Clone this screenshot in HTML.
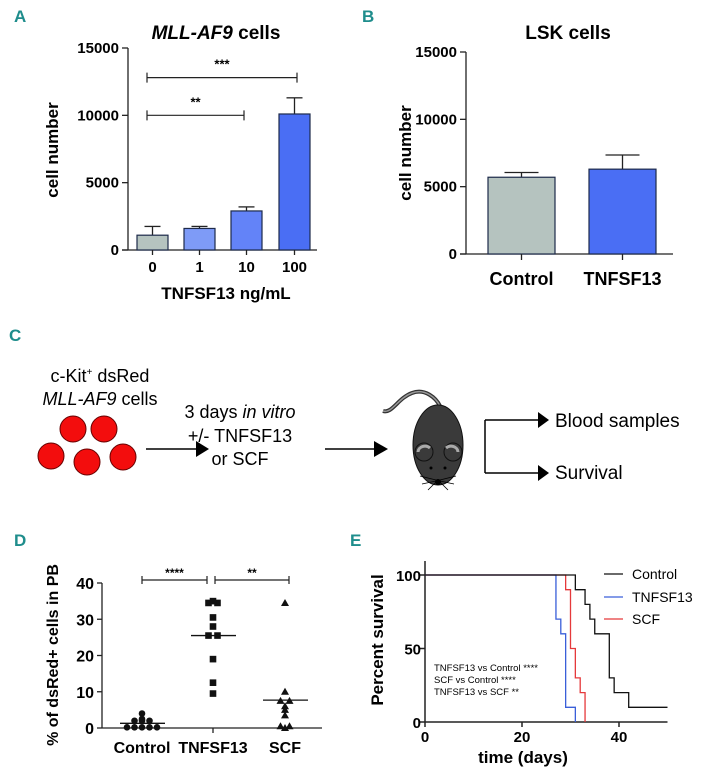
<!DOCTYPE html>
<html><head><meta charset="utf-8"><style>
body{margin:0;background:#fff}
svg{display:block;font-family:"Liberation Sans",sans-serif}
.lbl{fill:#1f8d8c;font-weight:bold;font-size:17px;font-family:"Liberation Sans Narrow","Liberation Sans",sans-serif}
.b{font-weight:bold}
</style></head><body>
<svg id="fig" width="707" height="776" viewBox="0 0 707 776">
<text class="lbl" x="14" y="22">A</text>
<text class="lbl" x="362" y="22">B</text>
<text class="lbl" x="9" y="341">C</text>
<text class="lbl" x="14" y="546">D</text>
<text class="lbl" x="350" y="546">E</text>

<g id="pA">
<text x="216" y="39" text-anchor="middle" font-size="19" class="b"><tspan font-style="italic">MLL-AF9</tspan> cells</text>
<text transform="translate(58,150) rotate(-90)" text-anchor="middle" font-size="17" class="b">cell number</text>
<text x="226" y="299" text-anchor="middle" font-size="17" class="b">TNFSF13 ng/mL</text>
</g>
<g id="pB">
<text x="568" y="39" text-anchor="middle" font-size="19" class="b">LSK cells</text>
<text transform="translate(411,153) rotate(-90)" text-anchor="middle" font-size="17" class="b">cell number</text>
</g>

<g id="pC">
<text x="100" y="382" text-anchor="middle" font-size="18">c-Kit<tspan font-size="10" dy="-7">+</tspan><tspan dy="7"> dsRed</tspan></text>
<text x="100" y="405" text-anchor="middle" font-size="18"><tspan font-style="italic">MLL-AF9</tspan> cells</text>
<g fill="#f30d0d" stroke="#600" stroke-width="1">
<circle cx="73" cy="429" r="13"/><circle cx="104" cy="429" r="13"/><circle cx="51" cy="456" r="13"/><circle cx="87" cy="462" r="13"/><circle cx="123" cy="457" r="13"/></g>
<line x1="146" y1="449" x2="198" y2="449" stroke="#000" stroke-width="1.5"/>
<polygon points="196,441 209,449 196,457" fill="#000"/>
<text x="240" y="418" text-anchor="middle" font-size="18">3 days <tspan font-style="italic">in vitro</tspan></text>
<text x="240" y="442" text-anchor="middle" font-size="18">+/- TNFSF13</text>
<text x="240" y="465" text-anchor="middle" font-size="18">or SCF</text>
<line x1="325" y1="449" x2="376" y2="449" stroke="#000" stroke-width="1.5"/>
<polygon points="374,441 388,449 374,457" fill="#000"/>
<g>
<path d="M383,411 C392,414 398,398 412,393 C425,388 436,398 440,406" fill="none" stroke="#333" stroke-width="4"/>
<path d="M383,411 C392,414 398,398 412,393 C425,388 436,398 440,406" fill="none" stroke="#999" stroke-width="1.5"/>
<ellipse cx="438" cy="445" rx="25" ry="40" fill="#3a3a3a" stroke="#111"/>
<circle cx="424" cy="452" r="9" fill="#3a3a3a" stroke="#111"/><circle cx="453" cy="452" r="9" fill="#3a3a3a" stroke="#111"/>
<path d="M418,452 a7,6 0 0 1 12,-4" fill="none" stroke="#aaa" stroke-width="3"/>
<path d="M446,448 a7,6 0 0 1 12,4" fill="none" stroke="#aaa" stroke-width="3"/>
<circle cx="431" cy="468" r="1.5" fill="#000"/><circle cx="445" cy="468" r="1.5" fill="#000"/>
<circle cx="438" cy="482" r="3" fill="#000"/>
<path d="M436,480 l-16,-4 M436,481 l-14,3 M436,482 l-8,8 M440,480 l16,-4 M440,481 l14,3 M440,482 l8,8" stroke="#000" stroke-width="0.8"/>
</g>
<path d="M485,420 V473 M485,420 H540 M485,473 H540" fill="none" stroke="#000" stroke-width="1.5"/>
<polygon points="538,412 549,420 538,428" fill="#000"/><polygon points="538,465 549,473 538,481" fill="#000"/>
<text x="555" y="427" font-size="19">Blood samples</text>
<text x="555" y="479" font-size="19">Survival</text>
</g>

<g id="pD">
<text transform="translate(58,655) rotate(-90)" text-anchor="middle" font-size="16" class="b">% of dsRed+ cells in PB</text>
</g>
<g id="pE">
<text transform="translate(383,640) rotate(-90)" text-anchor="middle" font-size="17" class="b">Percent survival</text>
<text x="523" y="763" text-anchor="middle" font-size="17" class="b">time (days)</text>
<text x="434" y="671" font-size="9.5">TNFSF13 vs Control ****</text>
<text x="434" y="683" font-size="9.5">SCF vs Control ****</text>
<text x="434" y="695" font-size="9.5">TNFSF13 vs SCF **</text>
</g>
</svg>
<script>
const NS="http://www.w3.org/2000/svg";
// Panel A data
const aCats=["0","1","10","100"];
const aVals=[1100,1600,2900,10100];
const aErr=[1750,1750,3200,11300];
const aTicks=[0,5000,10000,15000];
// Panel B data
const bCats=["Control","TNFSF13"];
const bVals=[5700,6300];
const bErr=[6050,7350];
// Panel D data
const dCats=["Control","TNFSF13","SCF"];
const dControl=[4,2.5,2,2,2,0.2,0.2,0.2,0.2,0.2];
const dTnf=[34.5,34.5,35,30.5,28,25.5,25.5,19,12.5,9.5];
const dScf=[34.5,10,7.5,7.5,6,5,3.5,0.5,0.5,0];
const dMeans=[1.3,25.5,7.7];
const dTicks=[0,10,20,30,40];
// Panel E data (Kaplan-Meier steps: day, percent)
const eControlT=[0,31,33,34,35,38,39,42,50];
const eControlS=[100,90,80,70,60,30,20,10,10];
const eTnfT=[0,27,28,29,31];
const eTnfS=[100,70,60,10,0];
const eScfT=[0,29,30,31,32,33];
const eScfS=[100,90,50,30,20,0];
const eXTicks=[0,20,40];
const eYTicks=[0,50,100];

function mk(parent,tag,attrs,txt){const e=document.createElementNS(NS,tag);for(const k in attrs)e.setAttribute(k,attrs[k]);if(txt!==undefined)e.textContent=txt;parent.appendChild(e);return e;}

// ---- Panel A ----
(function(){
const g=document.getElementById('pA');
const y=v=>250-v*(202/15000);
const x0=128, bx=[137,184,231,279], bw=31;
const cols=["#b5c3bf","#7e9bf7","#6383f8","#4a6ef4"];
mk(g,'line',{x1:x0,y1:y(15000),x2:x0,y2:250,stroke:'#222','stroke-width':1.3});
mk(g,'line',{x1:x0-6,y1:250,x2:317,y2:250,stroke:'#222','stroke-width':1.3});
aTicks.forEach(t=>{mk(g,'line',{x1:x0-6,y1:y(t),x2:x0,y2:y(t),stroke:'#222','stroke-width':1.3});
 const tx=mk(g,'text',{x:x0-9,y:y(t)+5,'text-anchor':'end','font-size':15,'font-weight':'bold'},String(t));
 
 });
aVals.forEach((v,i)=>{
 const cx=bx[i]+bw/2;
 const el=mk(g,'line',{x1:cx,y1:y(aErr[i]),x2:cx,y2:y(v),stroke:'#222','stroke-width':1.3});
 mk(g,'line',{x1:cx-8,y1:y(aErr[i]),x2:cx+8,y2:y(aErr[i]),stroke:'#222','stroke-width':1.3});
 const r=mk(g,'rect',{x:bx[i],y:y(v),width:bw,height:250-y(v),fill:cols[i],stroke:'#1d2a4a','stroke-width':1.2});
 
 
 mk(g,'line',{x1:cx,y1:250,x2:cx,y2:255,stroke:'#222','stroke-width':1.3});
 const t=mk(g,'text',{x:cx,y:272,'text-anchor':'middle','font-size':15,'font-weight':'bold'},aCats[i]);
 
 
});
const br=(x1,x2,yy,s,name)=>{const p=mk(g,'path',{d:`M${x1},${yy-5}V${yy+5}M${x1},${yy}H${x2}M${x2},${yy-5}V${yy+5}`,stroke:'#222',fill:'none','stroke-width':1.2});
 
 
 mk(g,'text',{x:(x1+x2)/2,y:yy-9,'text-anchor':'middle','font-size':13,'font-weight':'bold'},s);};
br(147,297,y(12800),'***','significance-bracket-100');
br(147,244,y(10000),'**','significance-bracket-10');
})();

// ---- Panel B ----
(function(){
const g=document.getElementById('pB');
const y=v=>254-v*(202/15000);
const x0=466, bx=[488,589], bw=67, cols=["#b5c3bf","#4a6ef4"];
mk(g,'line',{x1:x0,y1:y(15000),x2:x0,y2:254,stroke:'#222','stroke-width':1.3});
mk(g,'line',{x1:x0-6,y1:254,x2:673,y2:254,stroke:'#222','stroke-width':1.3});
aTicks.forEach(t=>{mk(g,'line',{x1:x0-6,y1:y(t),x2:x0,y2:y(t),stroke:'#222','stroke-width':1.3});
 const tx=mk(g,'text',{x:x0-9,y:y(t)+5,'text-anchor':'end','font-size':15,'font-weight':'bold'},String(t));
 
 });
bVals.forEach((v,i)=>{
 const cx=bx[i]+bw/2;
 mk(g,'line',{x1:cx,y1:y(bErr[i]),x2:cx,y2:y(v),stroke:'#222','stroke-width':1.3});
 mk(g,'line',{x1:cx-17,y1:y(bErr[i]),x2:cx+17,y2:y(bErr[i]),stroke:'#222','stroke-width':1.3});
 const r=mk(g,'rect',{x:bx[i],y:y(v),width:bw,height:254-y(v),fill:cols[i],stroke:'#1d2a4a','stroke-width':1.2});
 
 
 mk(g,'line',{x1:cx,y1:254,x2:cx,y2:260,stroke:'#222','stroke-width':1.3});
 const t=mk(g,'text',{x:cx,y:285,'text-anchor':'middle','font-size':18,'font-weight':'bold'},bCats[i]);
 
 
});
})();

// ---- Panel D ----
(function(){
const g=document.getElementById('pD');
const y=v=>728-v*(145/40);
const x0=102, cx=[142,213,285];
mk(g,'line',{x1:x0,y1:y(40),x2:x0,y2:728,stroke:'#222','stroke-width':1.3});
mk(g,'line',{x1:x0,y1:728,x2:322,y2:728,stroke:'#222','stroke-width':1.3});
mk(g,'line',{x1:213,y1:728,x2:213,y2:733,stroke:'#222','stroke-width':1.3});
dTicks.forEach(t=>{mk(g,'line',{x1:x0-5,y1:y(t),x2:x0,y2:y(t),stroke:'#222','stroke-width':1.3});
 const tx=mk(g,'text',{x:x0-8,y:y(t)+6,'text-anchor':'end','font-size':16,'font-weight':'bold'},String(t));
 
 });
dCats.forEach((c,i)=>{const t=mk(g,'text',{x:cx[i],y:753,'text-anchor':'middle','font-size':16,'font-weight':'bold'},c);
 
 
 const m=mk(g,'line',{x1:cx[i]-22,y1:y(dMeans[i]),x2:cx[i]+23,y2:y(dMeans[i]),stroke:'#111','stroke-width':1.3});
 
 });
// horizontal jitter offsets (layout only) for points sharing values
const jit=arr=>{const seen={};return arr.map(v=>{const k=Math.round(v*2);seen[k]=(seen[k]||0)+1;return seen[k];});};
const place=(arr)=>{const cnt={};arr.forEach(v=>{const k=Math.round(v*2);cnt[k]=(cnt[k]||0)+1;});const idx={};
 return arr.map(v=>{const k=Math.round(v*2);idx[k]=(idx[k]||0);const n=cnt[k];const off=(idx[k]-(n-1)/2)*7.5;idx[k]++;return off;});};
const offC=place(dControl), offT=place(dTnf), offS=place(dScf);
dControl.forEach((v,i)=>{const c=mk(g,'circle',{cx:cx[0]+offC[i],cy:y(v),r:3.3,fill:'#111'});
 
 });
dTnf.forEach((v,i)=>{const r=mk(g,'rect',{x:cx[1]+offT[i]*1.2-3.3,y:y(v)-3.3,width:6.6,height:6.6,fill:'#111'});
 
 });
dScf.forEach((v,i)=>{const px=cx[2]+offS[i]*1.2,py=y(v);const p=mk(g,'polygon',{points:`${px},${py-4} ${px+4},${py+3} ${px-4},${py+3}`,fill:'#111'});
 
 });
const br=(x1,x2,yy,s,name)=>{const p=mk(g,'path',{d:`M${x1},${yy-4}V${yy+4}M${x1},${yy}H${x2}M${x2},${yy-4}V${yy+4}`,stroke:'#222',fill:'none','stroke-width':1.2});
 
 
 mk(g,'text',{x:(x1+x2)/2,y:yy-3,'text-anchor':'middle','font-size':12,'font-weight':'bold'},s);};
br(142,207,580,'****','significance-bracket-d1');
br(215,289,580,'**','significance-bracket-d2');
})();

// ---- Panel E ----
(function(){
const g=document.getElementById('pE');
const x=d=>425+d*(97/20), y=v=>722-v*1.47;
mk(g,'line',{x1:425,y1:561,x2:425,y2:722,stroke:'#222','stroke-width':1.5});
mk(g,'line',{x1:425,y1:722,x2:x(50),y2:722,stroke:'#222','stroke-width':1.5});
eYTicks.forEach(t=>{mk(g,'line',{x1:419,y1:y(t),x2:425,y2:y(t),stroke:'#222','stroke-width':1.5});
 const tx=mk(g,'text',{x:421,y:y(t)+6,'text-anchor':'end','font-size':15,'font-weight':'bold'},String(t));
 
 });
eXTicks.forEach(t=>{mk(g,'line',{x1:x(t),y1:722,x2:x(t),y2:727,stroke:'#222','stroke-width':1.5});
 const tx=mk(g,'text',{x:x(t),y:742,'text-anchor':'middle','font-size':15,'font-weight':'bold'},String(t));
 
 });
const step=(T,S,col,name)=>{let d=`M${x(T[0])},${y(S[0])}`;for(let i=1;i<T.length;i++){d+=`H${x(T[i])}V${y(S[i])}`;}
 const p=mk(g,'path',{d:d,fill:'none',stroke:col,'stroke-width':1.3});
 
 };
step(eScfT,eScfS,'#e5393b','survival-line-scf');
step(eTnfT,eTnfS,'#3a5fd9','survival-line-tnfsf13');
step(eControlT,eControlS,'#111','survival-line-control');
const leg=[["Control","#111",574],["TNFSF13","#3a5fd9",597],["SCF","#e5393b",619]];
leg.forEach(l=>{const gg=mk(g,'g',{});
 
 
 mk(gg,'line',{x1:604,y1:l[2],x2:623,y2:l[2],stroke:l[1],'stroke-width':1.3});
 mk(gg,'text',{x:632,y:l[2]+5,'font-size':14},l[0]);});
})();
</script>
</body></html>
